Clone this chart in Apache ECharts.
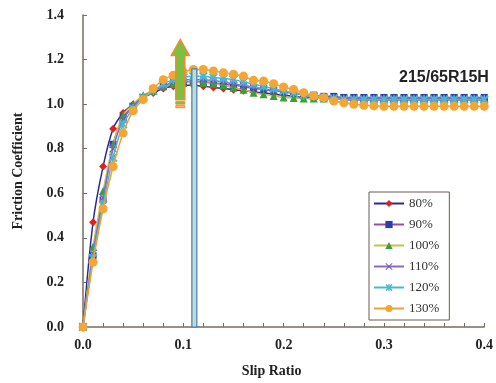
<!DOCTYPE html>
<html><head><meta charset="utf-8">
<script src="https://cdn.jsdelivr.net/npm/echarts@6/dist/echarts.min.js"></script>
<style>html,body{margin:0;padding:0;background:#fff}#c{width:496px;height:383px}</style>
</head><body><div id="c"></div>
<script>
const slip = [0.00,0.01,0.02,0.03,0.04,0.05,0.06,0.07,0.08,0.09,0.10,0.11,0.12,0.13,0.14,0.15,0.16,0.17,0.18,0.19,0.20,0.21,0.22,0.23,0.24,0.25,0.26,0.27,0.28,0.29,0.30,0.31,0.32,0.33,0.34,0.35,0.36,0.37,0.38,0.39,0.40];
const load80  = [0,0.47,0.72,0.89,0.96,1.00,1.03,1.05,1.07,1.08,1.085,1.085,1.08,1.075,1.07,1.065,1.06,1.055,1.05,1.045,1.04,1.035,1.03,1.03,1.025,1.025,1.02,1.02,1.02,1.02,1.02,1.02,1.02,1.02,1.02,1.02,1.02,1.02,1.02,1.02,1.02];
const load90  = [0,0.32,0.57,0.82,0.94,0.99,1.03,1.06,1.08,1.09,1.10,1.10,1.10,1.095,1.09,1.085,1.08,1.07,1.065,1.06,1.055,1.05,1.045,1.04,1.035,1.035,1.03,1.03,1.03,1.03,1.03,1.03,1.03,1.03,1.03,1.03,1.03,1.03,1.03,1.03,1.03];
const load100 = [0,0.36,0.61,0.82,0.95,1.00,1.04,1.06,1.08,1.09,1.095,1.10,1.096,1.092,1.085,1.074,1.065,1.051,1.044,1.037,1.03,1.028,1.025,1.025,1.025,1.025,1.025,1.025,1.025,1.025,1.025,1.025,1.025,1.025,1.025,1.025,1.025,1.025,1.025,1.025,1.025];
const load110 = [0,0.33,0.58,0.80,0.93,0.99,1.03,1.06,1.08,1.10,1.11,1.11,1.11,1.105,1.10,1.09,1.085,1.075,1.07,1.06,1.055,1.05,1.04,1.035,1.03,1.03,1.025,1.025,1.025,1.025,1.025,1.025,1.025,1.025,1.025,1.025,1.025,1.025,1.025,1.025,1.025];
const load120 = [0,0.31,0.55,0.76,0.91,0.98,1.03,1.06,1.09,1.11,1.12,1.125,1.125,1.12,1.115,1.11,1.10,1.09,1.08,1.07,1.06,1.05,1.04,1.035,1.03,1.025,1.02,1.02,1.02,1.02,1.02,1.02,1.02,1.02,1.02,1.02,1.02,1.02,1.02,1.02,1.02];
const load130 = [0,0.29,0.53,0.72,0.87,0.97,1.02,1.07,1.11,1.13,1.145,1.156,1.156,1.149,1.141,1.134,1.126,1.107,1.104,1.092,1.077,1.066,1.051,1.037,1.029,1.014,1.006,0.999,0.995,0.992,0.99,0.99,0.99,0.99,0.99,0.99,0.99,0.99,0.99,0.99,0.99];
const seriesNames = ['80%','90%','100%','110%','120%','130%'];
const yTicks = [0,0.2,0.4,0.6,0.8,1.0,1.2,1.4];
const xTicks = [0,0.1,0.2,0.3,0.4];
const peakLine = {x:0.111, y0:0, y1:1.158};
const arrow = {x:0.097, y0:1.02, y1:1.29};
const tireLabel = '215/65R15H';

const sym = {
  diamond:'diamond', rect:'rect', triangle:'triangle', circle:'circle',
  cross:'path://M0,1 L1,0 L5,4 L9,0 L10,1 L6,5 L10,9 L9,10 L5,6 L1,10 L0,9 L4,5 Z',
  star:'path://M0,1.5 L1.5,0 L5,3.5 L8.5,0 L10,1.5 L6.5,5 L10,8.5 L8.5,10 L5,6.5 L1.5,10 L0,8.5 L3.5,5 Z M4.2,0 L5.8,0 L5.8,10 L4.2,10 Z'
};
const styles = [
  {line:'#2a2a8c', mark:'#e02020', symbol:sym.diamond, size:8},
  {line:'#9a4aa8', mark:'#2a40a8', symbol:sym.rect, size:7},
  {line:'#c8c050', mark:'#38a038', symbol:sym.triangle, size:8},
  {line:'#8a68c8', mark:'#7a58c0', symbol:sym.cross, size:8},
  {line:'#48b8d0', mark:'#48b8d0', symbol:sym.star, size:9},
  {line:'#f0a030', mark:'#f5a532', symbol:sym.circle, size:9}
];
const values = [load80, load90, load100, load110, load120, load130];

const lineSeries = values.map((v,i)=>({
  name: seriesNames[i], type:'line', smooth:0.3,
  data: v.map((y,k)=>[slip[k], y]),
  symbol: styles[i].symbol, symbolSize: styles[i].size, showAllSymbol:true,
  lineStyle:{color:styles[i].line, width:1.5},
  itemStyle:{color:styles[i].mark, borderWidth:0},
  z: 3+i
}));

const chart = echarts.init(document.getElementById('c'));
const serif = '"Liberation Serif", "DejaVu Serif", serif';
chart.setOption({
  animation:false,
  backgroundColor:'#fff',
  title:{text:tireLabel, left:394, top:65, textStyle:{fontFamily:'"Liberation Sans", Arial, sans-serif', fontWeight:'bold', fontSize:16, color:'#222'}},
  grid:{left:83, right:9, top:15, bottom:56},
  legend:{
    orient:'vertical', left:369, top:192, data:seriesNames,
    itemWidth:30, itemHeight:9, itemGap:6, padding:[4,10,4,4],
    borderColor:'#6a5a50', borderWidth:1, backgroundColor:'#fff',
    textStyle:{fontFamily:serif, fontSize:13, lineHeight:15, color:'#333'}
  },
  xAxis:{
    type:'value', min:0, max:0.4, interval:0.1,
    name:'Slip Ratio', nameLocation:'middle', nameGap:37,
    nameTextStyle:{fontFamily:serif, fontWeight:'bold', fontSize:14, color:'#222', padding:[0,24,0,0]},
    axisLine:{lineStyle:{color:'#7a6a60', width:1.5}},
    axisTick:{inside:true, length:4, lineStyle:{color:'#7a6a60'}},
    minorTick:{show:true, splitNumber:5, length:4, lineStyle:{color:'#7a6a60'}},
    splitLine:{show:false},
    axisLabel:{margin:11, fontFamily:serif, fontWeight:'bold', fontSize:14, color:'#222', formatter:v=>v.toFixed(1)}
  },
  yAxis:{
    type:'value', min:0, max:1.4, interval:0.2,
    name:'Friction Coefficient', nameLocation:'middle', nameGap:58,
    nameTextStyle:{fontFamily:serif, fontWeight:'bold', fontSize:14, color:'#222'},
    axisLine:{show:true, lineStyle:{color:'#7a6a60', width:1.5}},
    axisTick:{show:true, inside:true, length:4, lineStyle:{color:'#7a6a60'}},
    splitLine:{show:false},
    axisLabel:{margin:19, fontFamily:serif, fontWeight:'bold', fontSize:14, color:'#222', formatter:v=>v.toFixed(1)}
  },
  series: lineSeries.concat([
    {
      type:'custom', z:20, silent:true,
      data:[[peakLine.x, peakLine.y0, peakLine.y1]],
      renderItem:(params, api)=>{
        const p0 = api.coord([api.value(0), api.value(1)]);
        const p1 = api.coord([api.value(0), api.value(2)]);
        return {type:'group', children:[
          {type:'rect', shape:{x:p0[0]-2.5, y:p1[1], width:5, height:p0[1]-p1[1]}, style:{fill:'#b8e0c8', stroke:'#4a78d0', lineWidth:1.2}}
        ]};
      }
    },
    {
      type:'custom', z:21, silent:true,
      data:[[arrow.x, arrow.y0, arrow.y1]],
      renderItem:(params, api)=>{
        const b = api.coord([api.value(0), api.value(1)]);
        const t = api.coord([api.value(0), api.value(2)]);
        const cx = b[0], hb = t[1]+16;
        const pts = [[cx,t[1]],[cx+9,hb],[cx+4.5,hb],[cx+4.5,b[1]],[cx-4.5,b[1]],[cx-4.5,hb],[cx-9,hb]];
        return {type:'group', children:[
          {type:'polygon', shape:{points:pts}, style:{fill:'#7cc040', stroke:'#f08a30', lineWidth:1.5}},
          {type:'rect', shape:{x:cx-4.5, y:b[1]+2, width:9, height:2.5}, style:{fill:'#7cc040', stroke:'#f08a30', lineWidth:1}},
          {type:'rect', shape:{x:cx-4.5, y:b[1]+6, width:9, height:2}, style:{fill:'#f8c080', stroke:'#f08a30', lineWidth:1}}
        ]};
      }
    }
  ])
});
</script></body></html>
